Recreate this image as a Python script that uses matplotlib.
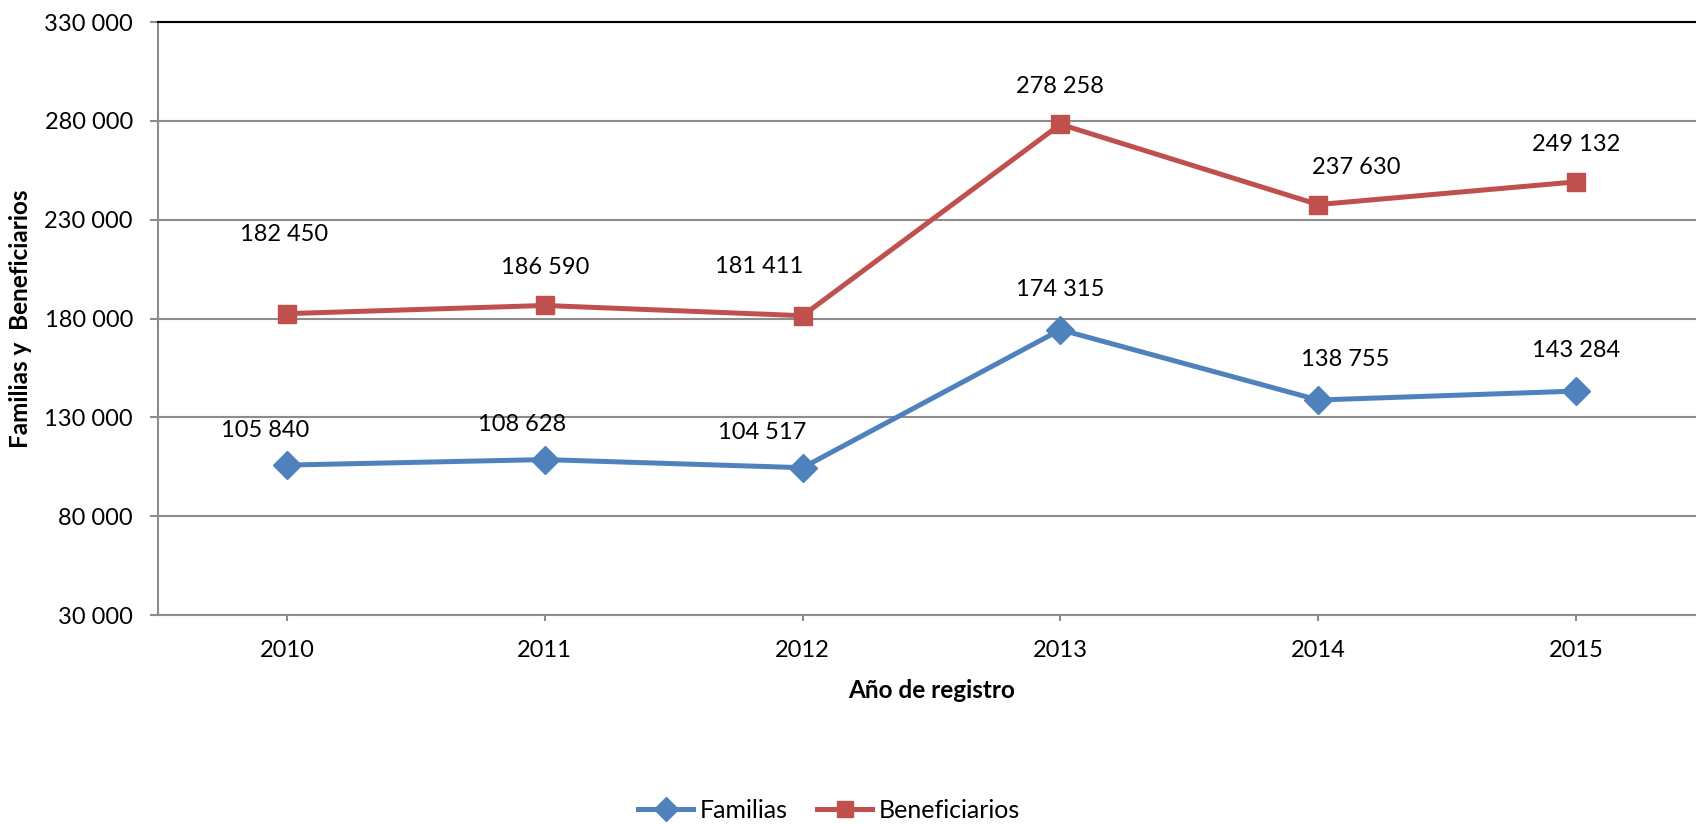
import matplotlib

matplotlib.use("Agg")
import matplotlib.pyplot as plt

plt.rcParams["font.family"] = ["Lato", "DejaVu Sans"]

years = ["2010", "2011", "2012", "2013", "2014", "2015"]
familias = [105840, 108628, 104517, 174315, 138755, 143284]
beneficiarios = [182450, 186590, 181411, 278258, 237630, 249132]
y_ticks = [30000, 80000, 130000, 180000, 230000, 280000, 330000]

# label offsets (pixels) copied from the layout of the original
fam_offsets = [(-22, 35), (-23, 35), (-40, 35), (0, 40), (27, 41), (0, 41)]
ben_offsets = [(-3, 79), (0, 38), (-43, 49), (0, 38), (38, 37), (0, 37)]

BLUE = "#4F81BD"
RED = "#C0504D"
GRID = "#8C8C8C"


def fmt(v):
    return f"{v:,}".replace(",", " ")


fig = plt.figure(figsize=(16.96, 8.25), dpi=100)
ax = fig.add_axes([158 / 1696, 1 - 615 / 825, (1705 - 158) / 1696, (615 - 22) / 825])

x = list(range(len(years)))
ax.plot(x, familias, color=BLUE, lw=3.6, marker="D", ms=14, label="Familias", zorder=3)
ax.plot(x, beneficiarios, color=RED, lw=3.6, marker="s", ms=13, label="Beneficiarios", zorder=3)

for xi, v, (dx, dy) in zip(x, familias, fam_offsets):
    ax.annotate(fmt(v), (xi, v), xytext=(dx, dy), textcoords="offset pixels",
                ha="center", va="center", fontsize=17)
for xi, v, (dx, dy) in zip(x, beneficiarios, ben_offsets):
    ax.annotate(fmt(v), (xi, v), xytext=(dx, dy), textcoords="offset pixels",
                ha="center", va="center", fontsize=17)

ax.set_xlim(-0.5, len(years) - 0.5)
ax.set_ylim(30000, 330000)
ax.set_xticks(x)
ax.set_xticklabels(years)
ax.set_yticks(y_ticks)
ax.set_yticklabels([fmt(t) for t in y_ticks])
ax.yaxis.grid(True, color=GRID, lw=1.5)
ax.set_axisbelow(True)

for side in ["left", "bottom"]:
    ax.spines[side].set_color(GRID)
    ax.spines[side].set_linewidth(1.5)
ax.spines["right"].set_visible(False)
ax.spines["top"].set_color("black")
ax.spines["top"].set_linewidth(1.5)

ax.tick_params(axis="y", direction="out", length=6, width=1.5, color=GRID,
               labelsize=17, pad=12)
ax.tick_params(axis="x", direction="out", length=4, width=1.5, color=GRID,
               labelsize=17, pad=14)

ax.set_xlabel("Año de registro", fontsize=17.5, fontweight="bold", labelpad=13)
ax.set_ylabel("Familias y  Beneficiarios", fontsize=17.5, fontweight="bold", labelpad=9)

fig.legend(loc="center", bbox_to_anchor=(829 / 1696, 1 - 810 / 825), ncol=2,
           frameon=False, fontsize=18, handlelength=2.2, columnspacing=1.2,
           handletextpad=0.25, markerscale=0.9)

fig.savefig("out.png", dpi=100)
